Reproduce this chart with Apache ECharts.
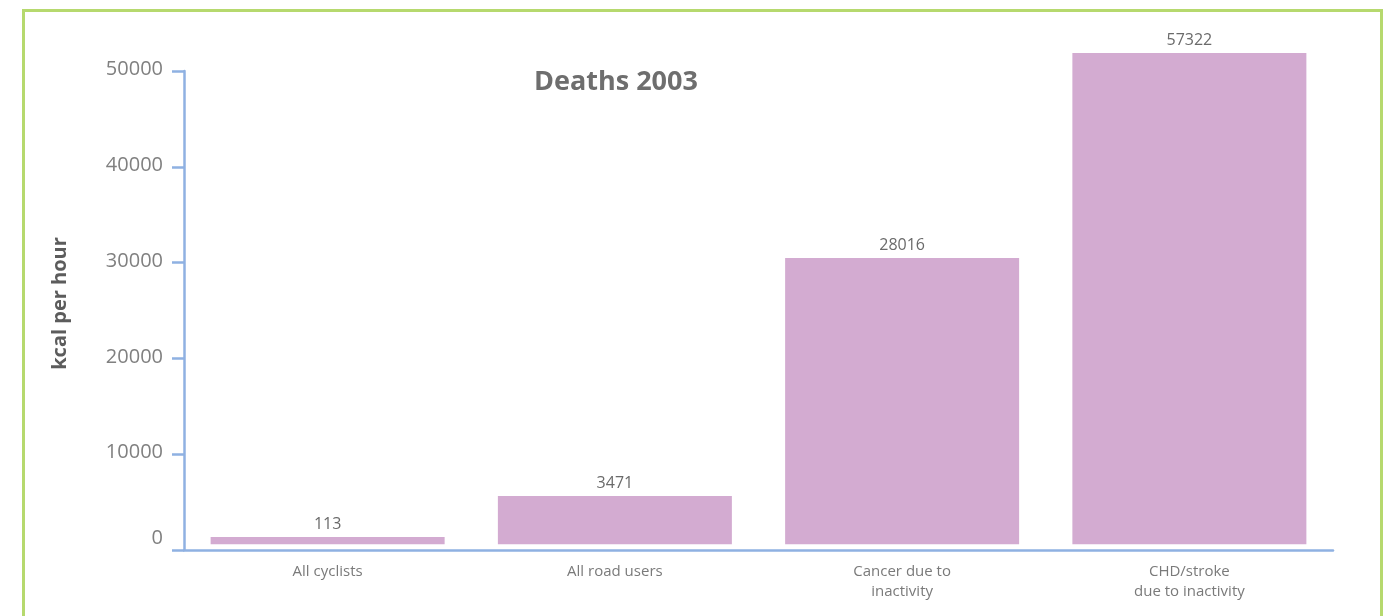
<!DOCTYPE html>
<html>
<head>
<meta charset="utf-8">
<script src="https://cdn.jsdelivr.net/npm/echarts@6/dist/echarts.min.js"></script>
<style>
  html, body { margin: 0; padding: 0; background: #fff; }
  #chart { width: 1397px; height: 616px; }
</style>
</head>
<body>
<div id="chart"></div>
<script>
// categories and numbers printed above the bars
var categories = ['All cyclists', 'All road users', 'Cancer due to\ninactivity', 'CHD/stroke\ndue to inactivity']
var deaths = [113, 3471, 28016, 57322]
// bar heights as they are drawn in the picture (they do not follow the printed numbers)
var barHeights = [773, 5104, 30246, 51902]
var yTicks = [0, 10000, 20000, 30000, 40000, 50000]

var axisBlue = '#8fb1e2'
var myChart = echarts.init(document.getElementById('chart'))

myChart.setOption({
  animation: false,
  textStyle: { fontFamily: 'Open Sans' },
  title: {
    text: 'Deaths 2003',
    left: 534,
    top: 69,
    padding: 0,
    textStyle: { fontSize: 27, fontWeight: 'bold', color: '#6e6e6e', fontFamily: 'Open Sans' }
  },
  graphic: [{
    type: 'rect',
    shape: { x: 23.5, y: 10.5, width: 1358, height: 700 },
    style: { fill: 'none', stroke: '#b6d96e', lineWidth: 3 },
    silent: true
  }],
  grid: { left: 184, right: 64, top: 71, bottom: 66 },
  xAxis: {
    type: 'category',
    data: categories,
    axisLine: { lineStyle: { color: axisBlue, width: 2.5 } },
    axisTick: { inside: true, length: 8, lineStyle: { color: axisBlue, width: 2.5 } },
    axisLabel: { fontSize: 15, color: '#7a7a7a', lineHeight: 20, margin: 12 }
  },
  yAxis: [
    {
      type: 'value',
      min: yTicks[0],
      max: yTicks[yTicks.length - 1],
      interval: 10000,
      name: 'kcal per hour',
      nameLocation: 'middle',
      nameGap: 114,
      nameTextStyle: { fontSize: 20, fontWeight: 'bold', color: '#5c5c5c', padding: [0, 0, 0, 14] },
      axisLine: { show: true, lineStyle: { color: axisBlue, width: 2.5 } },
      axisTick: { show: true, length: 12, lineStyle: { color: axisBlue, width: 2.5 } },
      splitLine: { show: false },
      axisLabel: {
        fontSize: 20,
        color: '#808080',
        margin: 21,
        formatter: function (v) {
          return v === 0 ? '{z|0}' : '{n|' + v + '}'
        },
        rich: {
          n: { fontSize: 20, color: '#808080', padding: [0, 0, 3, 0] },
          z: { fontSize: 20, color: '#808080', padding: [0, 0, 24, 0] }
        }
      }
    },
    {
      type: 'value',
      show: false,
      min: -600,
      max: 50000,
      splitLine: { show: false }
    }
  ],
  series: [{
    type: 'bar',
    yAxisIndex: 1,
    clip: false,
    barWidth: 234,
    data: barHeights,
    itemStyle: { color: '#d3abd1' },
    label: {
      show: true,
      position: 'top',
      distance: 5,
      fontSize: 16,
      color: '#6a6a6a',
      formatter: function (p) { return deaths[p.dataIndex] }
    }
  }]
})
</script>
</body>
</html>
